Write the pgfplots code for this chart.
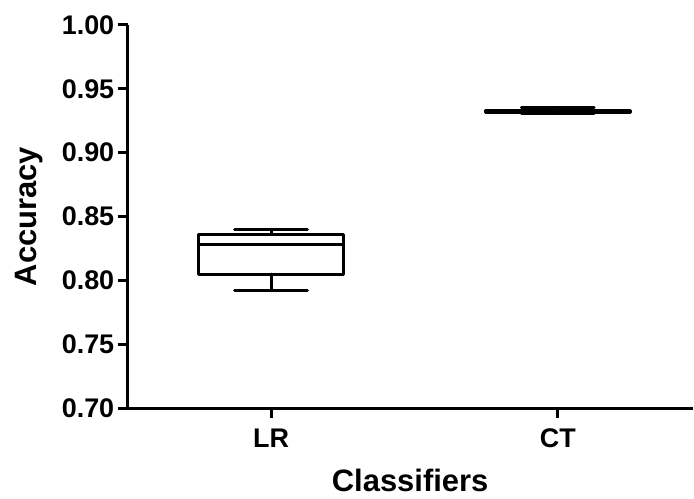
\documentclass[border=0pt]{standalone}
\usepackage{fontspec}
\setmainfont{Liberation Sans}
\usepackage{pgfplots}
\pgfplotsset{compat=1.18}
\usepgfplotslibrary{statistics}

\begin{document}
\begin{tikzpicture}
  \begin{axis}[
    scale only axis, width=566pt, height=384pt,
    xmin=0.5, xmax=2.47, ymin=0.70, ymax=1.00,
    axis x line=bottom, axis y line=left,
    axis line style={-, line width=3pt, black},
    xtick={1,2}, xticklabels={LR,CT},
    ytick={0.70,0.75,...,1.001},
    tick align=outside, major tick length=10pt,
    tick style={line width=3pt, black},
    /pgf/number format/assume math mode=true,
    yticklabel style={/pgf/number format/fixed, /pgf/number format/fixed zerofill, /pgf/number format/precision=2},
    xticklabel style={yshift=-7pt},
    ticklabel style={font=\fontsize{27}{31}\selectfont\bfseries},
    label style={font=\fontsize{31}{35}\selectfont\bfseries},
    xlabel={Classifiers}, ylabel={Accuracy},
    ylabel style={at={(rel axis cs:0,0.5)}, anchor=center, yshift=99pt},
    xlabel style={at={(rel axis cs:0.5,0)}, anchor=base, yshift=-84pt},
    boxplot/draw direction=y,
    boxplot/box extend=0.505, boxplot/whisker extend=0.254,
    clip=false
  ]
    \addplot+[black, line width=3pt, line cap=round, line join=round, solid, mark=none,
      boxplot prepared={draw position=1, lower whisker=0.792, lower quartile=0.805,
        median=0.828, upper quartile=0.836, upper whisker=0.840}] coordinates {};
    \addplot+[black, line width=3pt, line cap=round, line join=round, solid, mark=none,
      boxplot prepared={draw position=2, lower whisker=0.931, lower quartile=0.9315,
        median=0.932, upper quartile=0.933, upper whisker=0.9355}] coordinates {};
    \coordinate (o) at (rel axis cs:0,0);
  \end{axis}
  \path (o) ++(-128pt,-91pt) rectangle ++(694pt,500pt);
\end{tikzpicture}
\end{document}
